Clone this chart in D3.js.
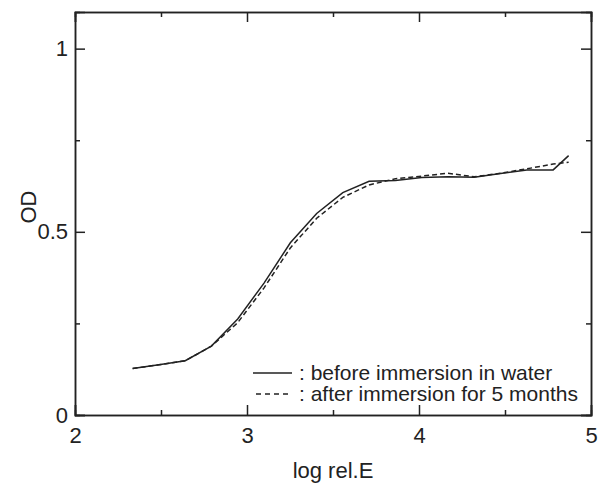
<!DOCTYPE html>
<html><head><meta charset="utf-8">
<script src="https://cdn.jsdelivr.net/npm/d3@7"></script>
<style>body{margin:0;background:#fff}svg{display:block}text{font-family:"Liberation Sans",Arial,sans-serif;fill:#222}</style>
</head><body><svg id="c" width="600" height="488"></svg>
<script>
const logE = [2.335, 2.488, 2.641, 2.793, 2.946, 3.099, 3.252, 3.405, 3.557, 3.71, 3.863, 4.016, 4.169, 4.321, 4.474, 4.627, 4.78, 4.87];
const odBefore = [0.127, 0.137, 0.148, 0.188, 0.262, 0.36, 0.47, 0.55, 0.607, 0.638, 0.64, 0.648, 0.65, 0.649, 0.659, 0.669, 0.669, 0.708];
const odAfter = [0.127, 0.137, 0.148, 0.188, 0.252, 0.347, 0.456, 0.537, 0.594, 0.628, 0.645, 0.652, 0.66, 0.65, 0.66, 0.672, 0.685, 0.69];
const xMajor = [2, 3, 4, 5];
const xMinor = [2.5, 3.5, 4.5];
const yMajor = [0, 0.5, 1];
const yMinor = [0.25, 0.75];
const legendLabels = [": before immersion in water", ": after immersion for 5 months"];

const svg = d3.select("#c");
const L = 75, R = 591, T = 12, B = 415;
const x = d3.scaleLinear().domain([2, 5]).range([L, R]);
const y = d3.scaleLinear().domain([0, 1.1]).range([B, T]);
const col = "#222";

function style(g){ g.selectAll("path.domain").attr("stroke", col).attr("stroke-width", 1.5);
  g.selectAll(".tick line").attr("stroke", col).attr("stroke-width", 1.5);
  g.selectAll(".tick text").attr("font-size", 22).attr("fill", col).attr("font-family", '"Liberation Sans",Arial,sans-serif'); }

// bottom
svg.append("g").attr("transform", `translate(0,${B})`)
  .call(d3.axisBottom(x).tickValues(xMajor).tickSize(-10).tickPadding(12).tickFormat(d3.format("d"))).call(style);
svg.append("g").attr("transform", `translate(0,${B})`)
  .call(d3.axisBottom(x).tickValues(xMinor).tickSize(-5).tickFormat("")).call(style);
// top
svg.append("g").attr("transform", `translate(0,${T})`)
  .call(d3.axisTop(x).tickValues(xMajor).tickSize(-10).tickFormat("")).call(style);
svg.append("g").attr("transform", `translate(0,${T})`)
  .call(d3.axisTop(x).tickValues(xMinor).tickSize(-5).tickFormat("")).call(style);
// left
svg.append("g").attr("transform", `translate(${L},0)`)
  .call(d3.axisLeft(y).tickValues(yMajor).tickSize(-10).tickPadding(7).tickFormat(d => d === 0.5 ? "0.5" : d3.format("d")(d))).call(style);
svg.append("g").attr("transform", `translate(${L},0)`)
  .call(d3.axisLeft(y).tickValues(yMinor).tickSize(-5).tickFormat("")).call(style);
// right
svg.append("g").attr("transform", `translate(${R},0)`)
  .call(d3.axisRight(y).tickValues(yMajor).tickSize(-10).tickFormat("")).call(style);
svg.append("g").attr("transform", `translate(${R},0)`)
  .call(d3.axisRight(y).tickValues(yMinor).tickSize(-5).tickFormat("")).call(style);

const line = vals => d3.line().x((d, i) => x(logE[i])).y(d => y(d))(vals);
svg.append("path").attr("d", line(odBefore)).attr("fill", "none").attr("stroke", col).attr("stroke-width", 1.5);
svg.append("path").attr("d", line(odAfter)).attr("fill", "none").attr("stroke", col).attr("stroke-width", 1.5).attr("stroke-dasharray", "5,3");

// legend
const lg = svg.append("g");
[0, 1].forEach(i => {
  const yy = 373 + i * 21;
  lg.append("line").attr("x1", i ? 256 : 253).attr("x2", 292).attr("y1", yy).attr("y2", yy)
    .attr("stroke", col).attr("stroke-width", 1.5).attr("stroke-dasharray", i ? "5,4" : null);
  lg.append("text").attr("x", 299).attr("y", yy).attr("dy", "0.35em").attr("font-size", 21).text(legendLabels[i]);
});

svg.append("text").attr("x", (L + R) / 2).attr("y", 470).attr("dy", "0.35em").attr("text-anchor", "middle").attr("font-size", 22).text("log rel.E");
svg.append("text").attr("transform", `translate(28,207) rotate(-90)`).attr("text-anchor", "middle").attr("dy", "0.35em").attr("font-size", 22).text("OD");
</script></body></html>
